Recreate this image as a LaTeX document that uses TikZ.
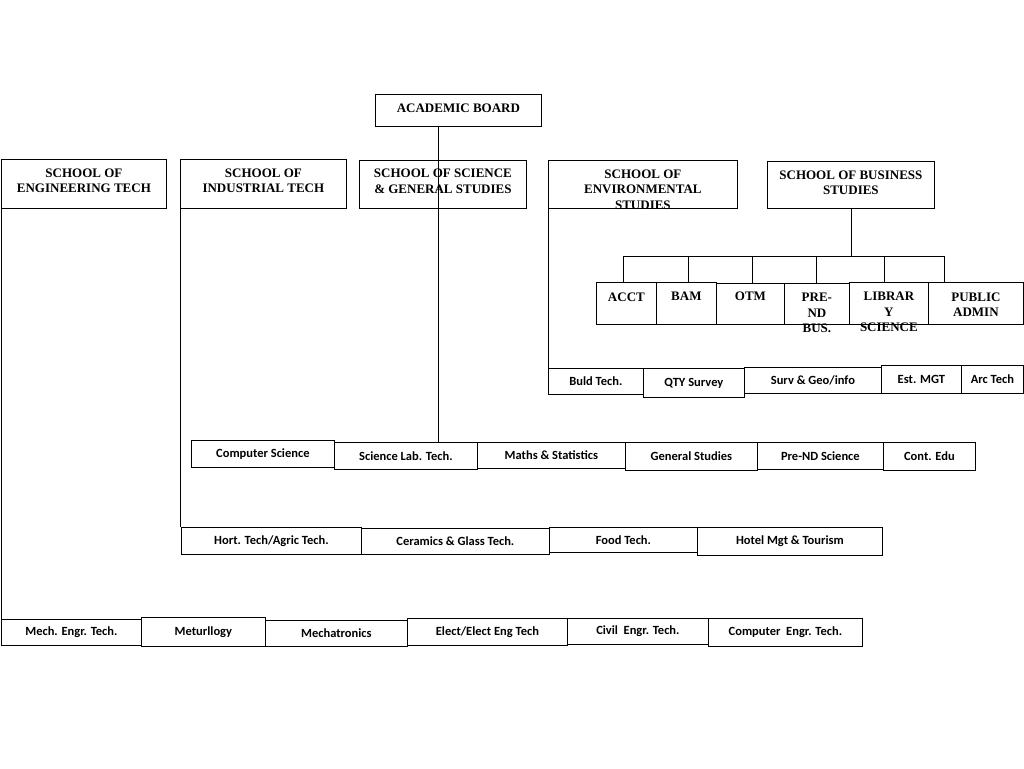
\documentclass[tikz,border=0pt]{standalone}
\usepackage{fontspec}
\newfontfamily\headfont{Liberation Serif}
\newfontfamily\leaffont{Carlito}
\begin{document}
\begin{tikzpicture}[x=1pt,y=-1pt,line width=0.8pt,
  box/.style={draw,anchor=north west,inner sep=0pt},
  hd/.style={font=\headfont\bfseries\fontsize{13}{15.5}\selectfont,align=center,inner sep=0pt},
  leaf/.style={box,font=\leaffont\bfseries\fontsize{12.5}{14}\selectfont}]
\useasboundingbox (0,0) rectangle (1024,768);
% board and schools
\node[box,minimum width=166,minimum height=32,label={[hd,below=9pt]north:ACADEMIC BOARD}] (board) at (375,94) {};
\node[box,minimum width=165,minimum height=49,label={[hd,below=9pt]north:SCHOOL OF\\ENGINEERING TECH}] (eng) at (1,159) {};
\node[box,minimum width=166,minimum height=49,label={[hd,below=9pt]north:SCHOOL OF\\INDUSTRIAL TECH}] (ind) at (180,159) {};
\node[box,minimum width=167,minimum height=48,label={[hd,below=8.5pt]north:SCHOOL OF SCIENCE\\\& GENERAL STUDIES}] (sci) at (359,160) {};
\node[box,minimum width=189,minimum height=48,label={[hd,below=9pt]north:SCHOOL OF\\ENVIRONMENTAL\\STUDIES}] (env) at (548,160) {};
\node[box,minimum width=167,minimum height=47,label={[hd,below=9pt]north:SCHOOL OF BUSINESS\\STUDIES}] (bus) at (767,161) {};
% business departments
\node[box,minimum width=60,minimum height=42,label={[hd,below=10pt]north:ACCT}] (acct) at (596,282) {};
\node[box,minimum width=60,minimum height=42,label={[hd,below=10pt]north:BAM}] (bam) at (656,282) {};
\node[box,minimum width=68,minimum height=41,label={[hd,below=8pt]north:OTM}] (otm) at (716,283) {};
\node[box,minimum width=65,minimum height=41,label={[hd,below=10pt]north:PRE-\\ND\\BUS.}] (prend) at (784,283) {};
\node[box,minimum width=79,minimum height=42,label={[hd,below=10pt]north:LIBRAR\\Y\\SCIENCE}] (lib) at (849,282) {};
\node[box,minimum width=95,minimum height=42,label={[hd,below=10pt]north:PUBLIC\\ADMIN}] (pub) at (928,282) {};
% environmental
\node[leaf,minimum width=95,minimum height=26] (buld) at (548,368) {Buld Tech.};
\node[leaf,minimum width=101,minimum height=29] (qty) at (643,368) {QTY Survey};
\node[leaf,minimum width=137,minimum height=26] (surv) at (744,367) {Surv \& Geo/info};
\node[leaf,minimum width=80,minimum height=28] (est) at (881,365) {Est. MGT};
\node[leaf,minimum width=62,minimum height=28] (arc) at (961,365) {Arc Tech};
% science
\node[leaf,minimum width=143,minimum height=27] (cs) at (191,440) {Computer Science};
\node[leaf,minimum width=143,minimum height=27] (slt) at (334,442) {Science Lab. Tech.};
\node[leaf,minimum width=148,minimum height=26] (mat) at (477,442) {Maths \& Statistics};
\node[leaf,minimum width=132,minimum height=28] (gs) at (625,442) {General Studies};
\node[leaf,minimum width=126,minimum height=27] (pns) at (757,442) {Pre-ND Science};
\node[leaf,minimum width=92,minimum height=28] (ce) at (883,442) {Cont. Edu};
% industrial
\node[leaf,minimum width=180,minimum height=27] (hort) at (181,527) {Hort. Tech/Agric Tech.};
\node[leaf,minimum width=188,minimum height=26] (cer) at (361,528) {Ceramics \& Glass Tech.};
\node[leaf,minimum width=148,minimum height=25] (food) at (549,527) {Food Tech.};
\node[leaf,minimum width=185,minimum height=28] (hotel) at (697,527) {Hotel Mgt \& Tourism};
% engineering
\node[leaf,minimum width=140,minimum height=26] (mech) at (1,619) {Mech. Engr. Tech.};
\node[leaf,minimum width=124,minimum height=29] (met) at (141,617) {Meturllogy};
\node[leaf,minimum width=142,minimum height=26] (mtr) at (265,620) {Mechatronics};
\node[leaf,minimum width=160,minimum height=27] (elec) at (407,618) {Elect/Elect Eng Tech};
\node[leaf,minimum width=141,minimum height=26] (civ) at (567,618) {Civil~~Engr. Tech.};
\node[leaf,minimum width=154,minimum height=28] (cen) at (708,618) {Computer~~Engr. Tech.};
% connectors
\coordinate (bar) at (bus.south |- 0,256);
\draw (438,0 |- board.south) -- (438,0 |- slt.north);
\draw (eng.south west) -- (mech.north west);
\draw (ind.south west) -- (ind.south west |- hort.north);
\draw (env.south west) -- (buld.north west);
\draw (bus.south) -- (bar);
\draw (623,0 |- bar) -- (944,0 |- bar);
\foreach \n/\x in {acct/623,bam/688,otm/752,prend/816,lib/884,pub/944}
  \draw (\x,0 |- bar) -- (\x,0 |- \n.north);
\end{tikzpicture}
\end{document}
